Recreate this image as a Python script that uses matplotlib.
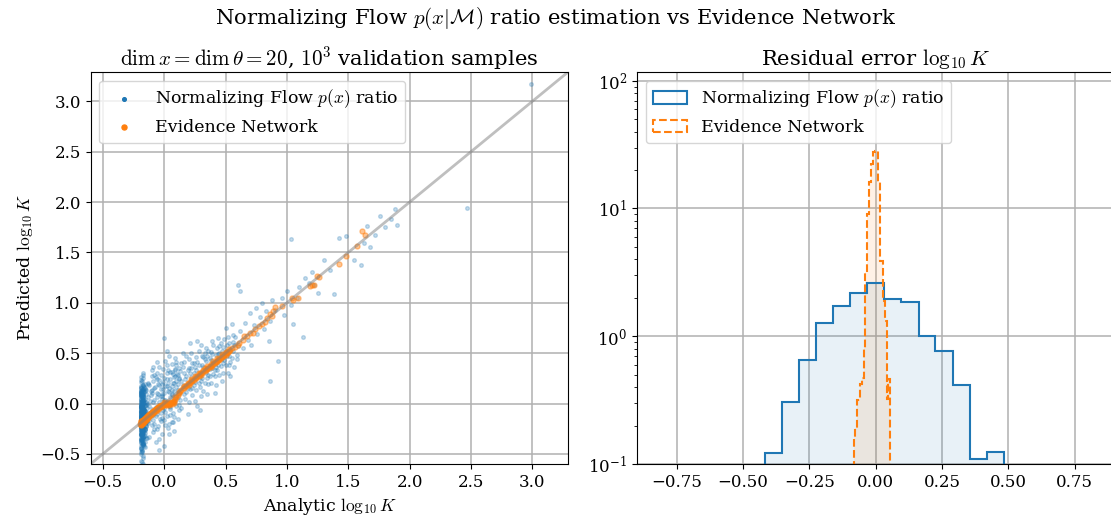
import numpy as np
import matplotlib
matplotlib.use("Agg")
import matplotlib.pyplot as plt

plt.rcParams['font.family'] = 'serif'
plt.rcParams['font.serif'] = ['DejaVu Serif']
plt.rcParams['mathtext.fontset'] = 'cm'

# Normalizing flow predictions: dense strip at the analytic minimum
strip_x = [
    -0.19, -0.175, -0.185, -0.16, -0.18, -0.17, -0.19, -0.155, -0.185, -0.175,
    -0.165, -0.19, -0.18, -0.15, -0.185, -0.17, -0.16, -0.19, -0.175, -0.14,
    -0.185, -0.18, -0.19, -0.165, -0.175, -0.155, -0.19, -0.17, -0.18, -0.185,
    -0.16, -0.19, -0.175, -0.185, -0.13, -0.18, -0.17, -0.19, -0.165, -0.175,
    -0.185, -0.155, -0.19, -0.18, -0.17, -0.185, -0.16, -0.19, -0.175, -0.145,
    -0.18, -0.19, -0.17, -0.185, -0.16, -0.175, -0.19, -0.135, -0.18, -0.165,
    -0.19, -0.185, -0.15, -0.175, -0.18, -0.19, -0.17, -0.165, -0.185, -0.19,
    -0.175, -0.16, -0.19, -0.18, -0.185, -0.155, -0.17, -0.19, -0.14, -0.18,
    -0.185, -0.19, -0.175, -0.165, -0.18, -0.19, -0.15, -0.185, -0.17, -0.16,
    -0.19, -0.18, -0.185, -0.175, -0.13, -0.19, -0.165, -0.18, -0.185, -0.17,
    -0.16, -0.19, -0.175, -0.185, -0.18, -0.155, -0.19, -0.17, -0.185, -0.145,
    -0.18, -0.175, -0.19, -0.165, -0.185, -0.19, -0.16, -0.18, -0.17, -0.19,
    -0.185, -0.15, -0.18, -0.19, -0.175, -0.17, -0.185, -0.19, -0.165, -0.14,
    -0.19, -0.185, -0.17, -0.18, -0.16, -0.19, -0.175, -0.185, -0.155, -0.18,
    -0.175, -0.19, -0.185, -0.135, -0.18, -0.17, -0.19, -0.165, -0.185, -0.16,
    -0.18, -0.19, -0.175, -0.185, -0.15, -0.19, -0.17, -0.18, -0.185, -0.165,
    -0.19, -0.16, -0.185, -0.18, -0.175, -0.19, -0.145, -0.17, -0.185, -0.19,
    -0.185, -0.18, -0.19, -0.17, -0.165, -0.175, -0.19, -0.155, -0.18, -0.13,
]
strip_y = [
    -0.12, 0.05, -0.31, -0.02, -0.18, 0.14, -0.07, -0.25, 0.02, -0.41,
    -0.09, -0.15, 0.09, -0.22, -0.04, -0.35, 0.19, -0.11, -0.28, 0.0,
    -0.16, 0.07, -0.48, -0.06, -0.2, 0.12, -0.13, -0.33, 0.03, -0.24,
    -0.01, -0.38, 0.17, -0.08, -0.19, 0.22, -0.27, -0.05, -0.14, 0.06,
    -0.44, -0.1, 0.1, -0.21, -0.03, -0.3, 0.15, -0.17, -0.52, 0.01,
    -0.12, -0.26, 0.08, -0.36, -0.07, 0.25, -0.16, -0.09, -0.4, 0.04,
    -0.23, -0.02, 0.13, -0.29, -0.11, -0.57, 0.18, -0.06, -0.2, -0.34,
    0.0, -0.14, 0.11, -0.46, -0.08, -0.25, 0.28, -0.04, -0.18, -0.31,
    0.06, -0.12, -0.39, 0.16, -0.1, -0.22, -0.01, -0.5, 0.09, -0.15,
    -0.28, 0.03, -0.07, -0.33, 0.2, -0.13, -0.42, -0.05, 0.12, -0.24,
    -0.17, 0.07, -0.6, -0.09, -0.3, 0.14, -0.02, -0.37, -0.19, 0.02,
    -0.11, -0.26, 0.23, -0.06, -0.45, -0.16, 0.05, -0.21, -0.03, -0.35,
    0.1, -0.13, -0.27, 0.0, -0.54, -0.08, 0.17, -0.19, -0.32, -0.04,
    0.08, -0.15, -0.4, 0.13, -0.1, -0.23, 0.3, -0.07, -0.29, -0.48,
    0.04, -0.12, -0.18, 0.19, -0.36, -0.05, -0.22, 0.11, -0.14, -0.43,
    -0.01, -0.26, 0.07, -0.09, -0.34, 0.15, -0.17, -0.58, -0.03, 0.01,
    -0.2, -0.11, 0.21, -0.3, -0.06, -0.39, 0.09, -0.15, -0.24, 0.26,
    -0.08, -0.47, 0.03, -0.13, -0.28, 0.12, -0.02, -0.21, -0.35, 0.06,
]
strip2_x = [
    -0.18, -0.19, -0.17, -0.185, -0.175, -0.19, -0.16, -0.18, -0.19, -0.185,
    -0.175, -0.185, -0.19, -0.165, -0.18, -0.17, -0.19, -0.185, -0.15, -0.175,
    -0.19, -0.17, -0.18, -0.185, -0.19, -0.16, -0.175, -0.18, -0.185, -0.19,
    -0.165, -0.185, -0.19, -0.175, -0.18, -0.19, -0.17, -0.14, -0.185, -0.18,
    -0.19, -0.175, -0.16, -0.185, -0.19, -0.18, -0.17, -0.185, -0.175, -0.19,
    -0.185, -0.19, -0.18, -0.17, -0.155, -0.185, -0.19, -0.175, -0.18, -0.165,
    -0.17, -0.18, -0.19, -0.185, -0.175, -0.19, -0.18, -0.16, -0.185, -0.19,
    -0.19, -0.185, -0.175, -0.18, -0.19, -0.17, -0.185, -0.18, -0.165, -0.19,
    -0.18, -0.17, -0.185, -0.19, -0.175, -0.18, -0.19, -0.185, -0.15, -0.17,
    -0.185, -0.19, -0.18, -0.175, -0.19, -0.185, -0.16, -0.18, -0.19, -0.175,
    -0.175, -0.18, -0.19, -0.185, -0.17, -0.19, -0.18, -0.185, -0.175, -0.145,
    -0.19, -0.185, -0.18, -0.19, -0.175, -0.165, -0.185, -0.19, -0.18, -0.17,
]
strip2_y = [
    -0.05, -0.19, 0.04, -0.27, -0.13, 0.11, -0.32, -0.08, -0.21, 0.0,
    -0.15, -0.36, 0.08, -0.24, -0.02, -0.11, -0.42, 0.15, -0.18, -0.06,
    -0.29, 0.02, -0.14, -0.23, 0.1, -0.38, -0.09, -0.16, 0.05, -0.31,
    -0.12, -0.2, 0.16, -0.04, -0.27, -0.1, 0.07, -0.34, -0.17, -0.01,
    -0.22, 0.12, -0.07, -0.3, -0.15, 0.03, -0.25, -0.11, -0.4, 0.09,
    -0.18, -0.03, -0.33, 0.14, -0.08, -0.21, -0.13, 0.01, -0.28, -0.16,
    0.06, -0.24, -0.1, -0.37, -0.05, 0.13, -0.19, -0.26, -0.02, -0.14,
    -0.31, 0.08, -0.12, -0.2, -0.44, -0.07, 0.02, -0.23, -0.15, -0.35,
    -0.09, 0.18, -0.26, -0.04, -0.17, -0.3, 0.05, -0.11, -0.22, -0.39,
    0.0, -0.14, -0.29, 0.1, -0.06, -0.19, -0.25, -0.12, 0.04, -0.33,
    -0.08, -0.21, 0.07, -0.16, -0.41, -0.03, -0.27, 0.12, -0.1, -0.18,
    -0.24, -0.01, -0.36, -0.13, 0.03, -0.2, -0.07, -0.3, 0.09, -0.15,
]

# cloud around zero
near_x = [
    -0.11, -0.1, -0.09, -0.1, -0.08, -0.12, -0.07, -0.06, -0.11, -0.05,
    -0.09, -0.04, -0.08, -0.03, -0.1, -0.02, -0.07, -0.01, -0.06, 0.0,
    -0.05, 0.01, -0.04, 0.02, -0.03, 0.03, -0.02, 0.04, -0.01, 0.05,
    0.0, 0.06, 0.01, 0.07, 0.02, 0.08, 0.03, 0.09, 0.04, 0.1,
    0.05, 0.11, 0.06, 0.12, 0.07, -0.12, 0.08, -0.09, 0.09, -0.06,
    0.1, -0.03, 0.11, 0.0, 0.12, 0.02, -0.08, 0.04, -0.05, 0.06,
    0.0, 0.08, -0.02, 0.1, -0.11, 0.03, 0.07, -0.04, 0.11, 0.01,
    0.09, -0.07, 0.05, -0.01, 0.12, 0.02, -0.09, 0.06, -0.03, 0.08,
    0.04, -0.06, 0.1, -0.1, 0.03, 0.07, -0.04, 0.11, 0.0, 0.05,
    -0.12, -0.1, -0.08, -0.06, -0.04, -0.02, 0.0, 0.02, 0.04, 0.06,
    0.08, 0.1, 0.12, -0.11, -0.09, -0.07, -0.05, -0.03, -0.01, 0.01,
    0.03, 0.05, 0.07, 0.09, 0.11, -0.12, -0.1, -0.08, -0.06, -0.04,
    -0.02, 0.0, 0.02, 0.04, 0.06, 0.08, 0.1, 0.12, -0.115, -0.095,
    -0.075, -0.055, -0.035, -0.015, 0.005, 0.025, 0.045, 0.065, 0.085, 0.105,
]
near_y = [
    0.08, -0.21, 0.22, -0.05, 0.15, -0.33, -0.12, 0.3, 0.12, -0.03,
    -0.28, 0.18, 0.04, -0.17, 0.27, 0.09, -0.38, -0.06, 0.1, 0.25,
    -0.22, 0.04, 0.36, -0.12, 0.07, 0.2, -0.3, -0.02, 0.14, 0.31,
    -0.16, 0.08, 0.42, -0.09, 0.17, 0.26, -0.24, 0.03, 0.11, 0.38,
    -0.05, 0.19, -0.18, 0.1, 0.29, 0.18, -0.13, 0.02, 0.34, -0.1,
    -0.02, 0.28, 0.06, -0.42, 0.24, 0.01, -0.2, 0.47, 0.19, 0.13,
    0.65, -0.27, 0.05, 0.16, -0.12, 0.33, 0.02, -0.35, 0.28, -0.08,
    0.45, 0.26, -0.11, 0.21, -0.06, 0.52, -0.16, 0.39, -0.09, 0.12,
    -0.3, 0.41, 0.07, 0.33, 0.0, 0.2, -0.46, -0.15, 0.1, 0.24,
    -0.02, 0.13, -0.25, 0.06, 0.23, -0.14, 0.04, 0.3, -0.2, 0.17,
    0.05, 0.22, 0.35, -0.08, 0.36, -0.03, 0.09, 0.14, 0.34, -0.21,
    0.12, 0.06, -0.18, 0.27, 0.13, -0.16, 0.1, 0.28, -0.25, 0.02,
    0.19, -0.04, 0.24, 0.15, 0.31, 0.2, 0.41, -0.01, 0.03, -0.11,
    0.16, 0.24, -0.15, 0.07, 0.17, 0.38, -0.03, 0.09, 0.33, 0.29,
]

# cloud between 0.1 and 0.6
mid_x = [
    0.13, 0.14, 0.15, 0.16, 0.17, 0.18, 0.19, 0.2, 0.21, 0.22,
    0.23, 0.24, 0.25, 0.26, 0.27, 0.28, 0.29, 0.3, 0.31, 0.32,
    0.33, 0.34, 0.35, 0.36, 0.37, 0.38, 0.39, 0.4, 0.41, 0.42,
    0.43, 0.44, 0.45, 0.46, 0.47, 0.48, 0.49, 0.5, 0.51, 0.52,
    0.53, 0.54, 0.55, 0.56, 0.57, 0.58, 0.59, 0.6, 0.14, 0.16,
    0.18, 0.2, 0.22, 0.24, 0.26, 0.28, 0.3, 0.32, 0.34, 0.36,
    0.38, 0.4, 0.42, 0.44, 0.46, 0.48, 0.5, 0.52, 0.54, 0.56,
    0.25, 0.35, 0.45, 0.55, 0.27, 0.33, 0.43, 0.15, 0.19, 0.23,
    0.29, 0.31, 0.37, 0.41, 0.47, 0.53, 0.57, 0.21, 0.39, 0.49,
    0.12, 0.15, 0.18, 0.21, 0.24, 0.27, 0.3, 0.33, 0.36, 0.39,
    0.42, 0.45, 0.48, 0.51, 0.13, 0.17, 0.2, 0.23, 0.26, 0.29,
    0.32, 0.35, 0.38, 0.41, 0.44, 0.47, 0.5, 0.53, 0.56, 0.59,
    0.14, 0.19, 0.25, 0.31, 0.37, 0.16, 0.22, 0.28, 0.34, 0.4,
]
mid_y = [
    0.32, -0.04, 0.18, 0.41, 0.05, 0.27, -0.1, 0.35, 0.14, 0.5,
    0.08, 0.3, 0.21, 0.46, -0.02, 0.38, 0.16, 0.58, 0.25, 0.12,
    0.44, 0.3, 0.09, 0.52, 0.34, 0.2, 0.62, 0.41, 0.27, 0.48,
    0.33, 0.65, 0.5, 0.37, 0.22, 0.56, 0.43, 0.75, 0.47, 0.3,
    0.6, 0.41, 0.79, 0.52, 0.36, 0.66, 0.48, 0.57, 0.22, 0.09,
    0.47, 0.02, 0.26, 0.4, 0.13, 0.52, 0.07, 0.36, 0.55, 0.19,
    0.43, 0.58, 0.18, 0.38, 0.6, 0.3, 0.52, 0.66, 0.27, 0.68,
    0.03, 0.47, 0.28, 0.45, 0.62, 0.2, 0.55, 0.5, 0.33, 0.4,
    -0.06, 0.47, 0.27, 0.1, 0.44, 0.38, 0.58, 0.6, 0.35, 0.64,
    0.25, 0.36, 0.11, 0.3, 0.18, 0.41, 0.22, 0.5, 0.28, 0.49,
    0.36, 0.57, 0.4, 0.58, 0.04, 0.24, 0.44, 0.15, 0.33, 0.26,
    0.46, 0.25, 0.51, 0.33, 0.49, 0.52, 0.38, 0.47, 0.61, 0.44,
    0.4, 0.15, 0.36, 0.38, 0.45, 0.3, 0.35, 0.2, 0.42, 0.29,
]

# sparse high values
high_x = [
    0.62, 0.64, 0.66, 0.68, 0.7, 0.71, 0.73, 0.75, 0.76, 0.78,
    0.8, 0.81, 0.83, 0.85, 0.86, 0.88, 0.9, 0.93, 0.86, 0.96,
    0.98, 1.0, 1.03, 1.05, 1.08, 1.1, 1.13, 1.15, 1.18, 1.2,
    1.22, 1.25, 1.3, 1.35, 1.38, 1.42, 1.48, 1.55, 1.6, 1.63,
    1.65, 1.68, 1.72, 1.76, 1.8, 1.85, 1.88, 1.9, 1.03, 0.6,
    0.62, 2.47, 2.99,
]
high_y = [
    0.72, 0.55, 0.8, 0.63, 0.9, 0.58, 0.78, 0.95, 0.69, 0.86,
    1.0, 0.74, 0.92, 0.62, 0.82, 1.03, 0.93, 0.42, 0.22, 1.05,
    0.88, 1.12, 0.98, 0.79, 1.05, 1.16, 0.66, 1.25, 1.2, 1.31,
    1.18, 1.1, 1.42, 1.33, 1.09, 1.64, 1.66, 1.42, 1.37, 1.59,
    1.76, 1.55, 1.67, 1.86, 1.75, 1.83, 1.93, 1.77, 1.63, 1.18,
    1.12, 1.94, 3.17,
]

# Evidence network predictions
en_x = [
    -0.195, -0.19, -0.185, -0.18, -0.175, -0.17, -0.165, -0.16, -0.155, -0.15,
    -0.145, -0.14, -0.135, -0.13, -0.125, -0.12, -0.115, -0.11, -0.105, -0.1,
    -0.095, -0.09, -0.085, -0.08, -0.075, -0.07, -0.065, -0.06, -0.055, -0.05,
    -0.045, -0.04, -0.035, -0.03, -0.025, -0.02, -0.015, -0.01, -0.005,
    -0.19, -0.19, -0.185, -0.18, -0.17, -0.16, -0.15, -0.14, -0.13, -0.12,
    0.0, 0.01, 0.02, 0.03, 0.04, 0.05, 0.06, 0.07, 0.08, 0.09,
    0.1, 0.11, 0.12, 0.13, 0.02, 0.04, 0.06, 0.08,
    0.14, 0.15, 0.16, 0.17, 0.18, 0.19, 0.2, 0.21, 0.22, 0.23,
    0.24, 0.25, 0.26, 0.27, 0.28, 0.29, 0.3, 0.31, 0.32, 0.33,
    0.34, 0.35, 0.36, 0.37, 0.38, 0.39, 0.4, 0.41, 0.42, 0.43,
    0.44, 0.45, 0.46, 0.47, 0.48, 0.49, 0.5, 0.51, 0.52, 0.53,
    0.54, 0.55, 0.2, 0.25, 0.3, 0.35, 0.4, 0.45, 0.5, 0.22,
    0.28, 0.33, 0.38, 0.43, 0.47,
    -0.19, -0.18, -0.17, -0.16, -0.15, -0.14, -0.13, -0.12, -0.11, -0.1,
    -0.09, -0.08, -0.07, -0.06, -0.05, -0.04, -0.03, 0.0, 0.03, 0.06,
    0.09, 0.16, 0.19, 0.23, 0.26, 0.29, 0.32, 0.35, 0.38, 0.41,
    0.44, 0.47, 0.5, 0.53, -0.185, -0.175, -0.165, 0.12, 0.01, 0.05,
    0.576, 0.611, 0.638, 0.671, 0.698, 0.739, 0.774, 0.793, 0.834, 0.861,
    0.888, 0.902, 0.956, 1.051, 1.086, 1.187, 1.222, 1.241, 1.423, 1.477,
    1.567, 1.613, 1.635, 0.6, 0.65, 0.72, 0.88, 1.04, 1.26, 1.2, 0.82,
]
en_y = [
    -0.2, -0.19, -0.17, -0.18, -0.16, -0.17, -0.15, -0.16, -0.14, -0.15,
    -0.13, -0.14, -0.12, -0.13, -0.11, -0.12, -0.1, -0.11, -0.09, -0.1,
    -0.08, -0.09, -0.07, -0.08, -0.06, -0.07, -0.05, -0.06, -0.04, -0.05,
    -0.035, -0.04, -0.025, -0.03, -0.02, -0.025, -0.01, -0.015, -0.005,
    -0.17, -0.21, -0.2, -0.205, -0.19, -0.175, -0.165, -0.15, -0.14, -0.125,
    0.0, 0.005, 0.0, 0.01, 0.005, 0.01, 0.015, 0.02, 0.03, 0.045,
    0.06, 0.08, 0.1, 0.12, -0.015, -0.01, 0.0, 0.01,
    0.135, 0.15, 0.155, 0.17, 0.175, 0.19, 0.2, 0.205, 0.22, 0.225,
    0.235, 0.25, 0.255, 0.27, 0.275, 0.29, 0.3, 0.305, 0.32, 0.32,
    0.335, 0.345, 0.35, 0.37, 0.375, 0.385, 0.39, 0.405, 0.41, 0.425,
    0.43, 0.445, 0.455, 0.46, 0.475, 0.48, 0.5, 0.505, 0.515, 0.525,
    0.535, 0.55, 0.18, 0.27, 0.28, 0.37, 0.42, 0.43, 0.48, 0.24,
    0.3, 0.35, 0.36, 0.45, 0.49,
    -0.185, -0.175, -0.16, -0.15, -0.14, -0.125, -0.115, -0.1, -0.095, -0.08,
    -0.075, -0.06, -0.055, -0.045, -0.035, -0.025, -0.015, 0.015, 0.02, 0.02,
    0.06, 0.17, 0.2, 0.235, 0.265, 0.3, 0.33, 0.355, 0.39, 0.415,
    0.445, 0.475, 0.51, 0.54, -0.215, -0.19, -0.18, 0.11, -0.01, -0.005,
    0.566, 0.599, 0.632, 0.666, 0.699, 0.738, 0.765, 0.791, 0.848, 0.891,
    0.914, 0.957, 0.97, 1.023, 1.046, 1.162, 1.179, 1.268, 1.387, 1.467,
    1.56, 1.715, 1.675, 0.58, 0.67, 0.7, 0.87, 1.05, 1.26, 1.18, 0.81,
]

# residual histograms (density)
nf_edges = [-0.419, -0.355, -0.290, -0.227, -0.162, -0.097, -0.033, 0.032,
            0.097, 0.162, 0.225, 0.290, 0.355, 0.419, 0.484]
nf_density = [0.123, 0.306, 0.646, 1.27, 1.71, 2.19, 2.62, 1.94, 1.86,
              1.0, 0.772, 0.418, 0.109, 0.124]

en_edges = [-0.0835, -0.0785, -0.0697, -0.0596, -0.0521, -0.0458, -0.0395,
            -0.0345, -0.0270, -0.0195, -0.0094, -0.0044, 0.0069, 0.0169,
            0.0257, 0.0333, 0.0421, 0.0458, 0.0534]
en_density = [0.164, 0.191, 0.318, 0.42, 0.47, 0.81, 3.16, 9.0, 16.1, 22.3,
              27.7, 28.3, 16.1, 3.86, 1.9, 1.31, 0.32, 0.46]

resid_ticks = [-0.75, -0.5, -0.25, 0.0, 0.25, 0.5, 0.75]
lims = [-0.6, 3.29]

fig = plt.figure(figsize=(11.11, 5.23), dpi=100)
ax1 = fig.add_axes([0.0815, 0.1128, 0.4298, 0.7495])
ax2 = fig.add_axes([0.5733, 0.1128, 0.4299, 0.7495])

nf_x = strip_x + strip2_x + near_x + mid_x + high_x
nf_y = strip_y + strip2_y + near_y + mid_y + high_y

ax1.scatter(nf_x, nf_y, s=7, alpha=0.25, color='C0', label=r'Normalizing Flow $p(x)$ ratio')
ax1.scatter(en_x, en_y, s=13, alpha=0.45, color='C1', label='Evidence Network')
ax1.plot(lims, lims, color='gray', alpha=0.5, lw=2)
ax1.set_xlim(lims)
ax1.set_ylim(lims)
ax1.grid(True, lw=1.1)
ax1.set_axisbelow(True)
ax1.set_xlabel(r'Analytic $\log_{10} K$', fontsize=12.5)
ax1.set_ylabel(r'Predicted $\log_{10} K$', fontsize=12.5)
ax1.set_title(r'$\dim x = \dim \theta = 20$, $10^3$ validation samples', fontsize=15.2, pad=5)
ax1.tick_params(labelsize=12)
leg1 = ax1.legend(loc='upper left', fontsize=12.5)
for h in leg1.legend_handles:
    h.set_alpha(1)

ax2.hist(nf_edges[:-1], bins=nf_edges, weights=nf_density, histtype='stepfilled',
         color='C0', alpha=0.1)
ax2.hist(nf_edges[:-1], bins=nf_edges, weights=nf_density, histtype='step',
         color='C0', lw=1.5, label=r'Normalizing Flow $p(x)$ ratio')
ax2.hist(en_edges[:-1], bins=en_edges, weights=en_density, histtype='stepfilled',
         color='C1', alpha=0.1)
ax2.hist(en_edges[:-1], bins=en_edges, weights=en_density, histtype='step',
         color='C1', lw=1.5, ls='--', label='Evidence Network')
ax2.set_yscale('log')
ax2.set_xlim(-0.9, 0.9)
ax2.set_ylim(0.1, 117)
ax2.set_xticks(resid_ticks)
ax2.grid(True, lw=1.1)
ax2.set_axisbelow(True)
ax2.set_title(r'Residual error $\log_{10} K$', fontsize=15.2, pad=5)
ax2.tick_params(labelsize=12)
ax2.legend(loc='upper left', fontsize=12.5)

fig.suptitle(r'Normalizing Flow $p(x|\mathcal{M})$ ratio estimation vs Evidence Network',
             fontsize=15.2, y=0.99)

fig.savefig('out.png', dpi=100)
